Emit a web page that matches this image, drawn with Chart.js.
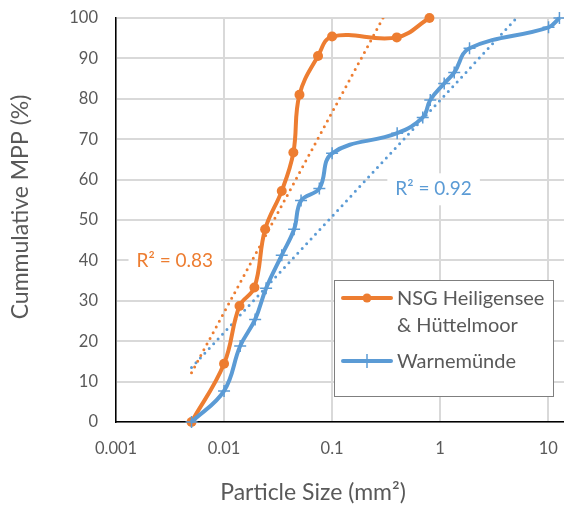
<!DOCTYPE html>
<html>
<head>
<meta charset="utf-8">
<script src="https://cdn.jsdelivr.net/npm/chart.js@4.4.1/dist/chart.umd.min.js"></script>
<style>
  html, body { margin: 0; padding: 0; background: #fff; }
  #wrap { width: 564px; height: 506px; }
</style>
</head>
<body>
<div id="wrap"><canvas id="chart" width="564" height="506"></canvas></div>
<script>
// Particle size (mm²) vs cumulative MPP (%)
const nsgSize = [0.005, 0.01, 0.0139, 0.0191, 0.024, 0.0342, 0.0438, 0.0499, 0.0741, 0.1, 0.397, 0.796];
const nsgCum  = [0, 14.4, 28.7, 33.3, 47.7, 57.2, 66.7, 81.0, 90.6, 95.4, 95.2, 100];

const warnSize = [0.005, 0.01, 0.0141, 0.0194, 0.0245, 0.0342, 0.0445, 0.0516, 0.0762, 0.1, 0.40, 0.69, 0.81, 1.09, 1.35, 1.87, 10.07, 12.7];
const warnCum  = [0, 7.7, 18.8, 25.4, 33.1, 41.3, 47.7, 54.8, 57.8, 66.5, 71.5, 75.4, 79.7, 83.8, 86.5, 92.5, 97.7, 100];

// log trendlines, read at their visible ends
const nsgTrendSize = [0.005, 0.296];
const nsgTrendCum  = [12.2, 100];
const warnTrendSize = [0.005, 5.1];
const warnTrendCum  = [13.5, 100];

const nsgR2 = 0.83;
const warnR2 = 0.92;

const xTicks = [0.001, 0.01, 0.1, 1, 10];
const yMin = 0, yMax = 100, yStep = 10;

const ORANGE = '#ED7D31';
const BLUE = '#5B9BD5';
const TEXT = '#595959';
const FONT = 'Lato, "Open Sans", sans-serif';

const toPoints = (xs, ys) => xs.map((x, i) => ({ x: x, y: ys[i] }));

// Axis titles, R² labels and the boxed legend
const extras = {
    id: 'extras',
    afterDatasetsDraw(chart) {
        const ctx = chart.ctx;
        const x = chart.scales.x, y = chart.scales.y;
        const labels = [
            { text: 'R² = ' + nsgR2.toFixed(2), color: ORANGE, cx: x.getPixelForValue(0.0035), cy: y.getPixelForValue(39.8) },
            { text: 'R² = ' + warnR2.toFixed(2), color: BLUE, cx: x.getPixelForValue(0.87), cy: y.getPixelForValue(57.6) }
        ];
        ctx.save();
        ctx.font = '19px ' + FONT;
        ctx.textAlign = 'center';
        ctx.textBaseline = 'middle';
        labels.forEach(l => {
            const w = ctx.measureText(l.text).width;
            ctx.fillStyle = '#fff';
            ctx.fillRect(l.cx - w / 2 - 8, l.cy - 16, w + 16, 32);
            ctx.fillStyle = l.color;
            ctx.fillText(l.text, l.cx, l.cy);
        });
        ctx.restore();
    },
    afterDraw(chart) {
        const ctx = chart.ctx;
        ctx.save();
        ctx.fillStyle = TEXT;
        ctx.font = '23px ' + FONT;
        ctx.textAlign = 'center';
        ctx.textBaseline = 'middle';
        ctx.fillText('Particle Size (mm²)', 313, 493);
        ctx.translate(21, 207);
        ctx.rotate(-Math.PI / 2);
        ctx.fillText('Cummulative MPP (%)', 0, 0);
        ctx.restore();

        // legend
        ctx.save();
        ctx.fillStyle = '#fff';
        ctx.fillRect(334, 280, 219, 116);
        ctx.strokeStyle = '#7f7f7f';
        ctx.lineWidth = 1;
        ctx.strokeRect(334.5, 280.5, 219, 116);

        ctx.lineWidth = 4;
        ctx.lineCap = 'round';
        ctx.strokeStyle = ORANGE;
        ctx.beginPath(); ctx.moveTo(343, 298); ctx.lineTo(391, 298); ctx.stroke();
        ctx.fillStyle = ORANGE;
        ctx.beginPath(); ctx.arc(367, 298, 4.5, 0, Math.PI * 2); ctx.fill();

        ctx.strokeStyle = BLUE;
        ctx.beginPath(); ctx.moveTo(343, 361); ctx.lineTo(391, 361); ctx.stroke();
        ctx.lineWidth = 1.5;
        ctx.lineCap = 'butt';
        ctx.beginPath(); ctx.moveTo(367, 354); ctx.lineTo(367, 368); ctx.stroke();

        ctx.fillStyle = TEXT;
        ctx.font = '20px ' + FONT;
        ctx.textAlign = 'left';
        ctx.textBaseline = 'alphabetic';
        ctx.fillText('NSG Heiligensee', 397, 305);
        ctx.fillText('& Hüttelmoor', 397, 332);
        ctx.fillText('Warnemünde', 397, 367.5);
        ctx.restore();
    }
};

new Chart(document.getElementById('chart'), {
    type: 'scatter',
    data: {
        datasets: [
            {
                label: 'Warnemünde',
                data: toPoints(warnSize, warnCum),
                showLine: true,
                borderColor: BLUE,
                backgroundColor: BLUE,
                borderWidth: 4,
                tension: 0.4,
                pointStyle: 'cross',
                pointRadius: 6,
                pointBorderWidth: 1.5,
                pointBorderColor: BLUE,
                clip: false,
                order: 0
            },
            {
                label: 'NSG Heiligensee & Hüttelmoor',
                data: toPoints(nsgSize, nsgCum),
                showLine: true,
                borderColor: ORANGE,
                backgroundColor: ORANGE,
                borderWidth: 4,
                tension: 0.4,
                pointStyle: 'circle',
                pointRadius: 5,
                pointBorderWidth: 0,
                clip: false,
                order: 1
            },
            {
                label: 'NSG trend',
                data: toPoints(nsgTrendSize, nsgTrendCum),
                showLine: true,
                borderColor: ORANGE,
                borderWidth: 3,
                borderDash: [0, 6.5],
                borderCapStyle: 'round',
                pointRadius: 0,
                order: 2
            },
            {
                label: 'Warnemünde trend',
                data: toPoints(warnTrendSize, warnTrendCum),
                showLine: true,
                borderColor: BLUE,
                borderWidth: 3,
                borderDash: [0, 6.5],
                borderCapStyle: 'round',
                pointRadius: 0,
                order: 3
            }
        ]
    },
    options: {
        responsive: false,
        animation: false,
        devicePixelRatio: 1,
        layout: { autoPadding: false, padding: { top: 18, right: 0, bottom: 0, left: 0 } },
        plugins: {
            legend: { display: false },
            tooltip: { enabled: false }
        },
        scales: {
            x: {
                type: 'logarithmic',
                min: 0.001,
                max: 14,
                afterBuildTicks: scale => {
                    scale.ticks = xTicks.map(v => ({ value: v, major: true }));
                },
                afterFit: scale => {
                    scale.height = 84;
                    scale.paddingLeft = 0;
                    scale.paddingRight = 0;
                },
                ticks: {
                    color: TEXT,
                    font: { family: FONT, size: 16.5 },
                    padding: 2,
                    autoSkip: false,
                    maxRotation: 0,
                    callback: v => String(v)
                },
                grid: {
                    color: '#d9d9d9',
                    lineWidth: 2,
                    drawTicks: true,
                    tickLength: 15,
                    tickColor: 'rgba(0,0,0,0)'
                },
                border: { color: '#000', width: 1.5 }
            },
            y: {
                min: yMin,
                max: yMax,
                afterFit: scale => { scale.width = 116; },
                ticks: {
                    stepSize: yStep,
                    color: TEXT,
                    font: { family: FONT, size: 16.5 },
                    padding: 2
                },
                grid: {
                    color: '#d9d9d9',
                    lineWidth: 2,
                    drawTicks: true,
                    tickLength: 16,
                    tickColor: 'rgba(0,0,0,0)'
                },
                border: { color: '#000', width: 1.5 }
            }
        }
    },
    plugins: [extras]
});
</script>
</body>
</html>
